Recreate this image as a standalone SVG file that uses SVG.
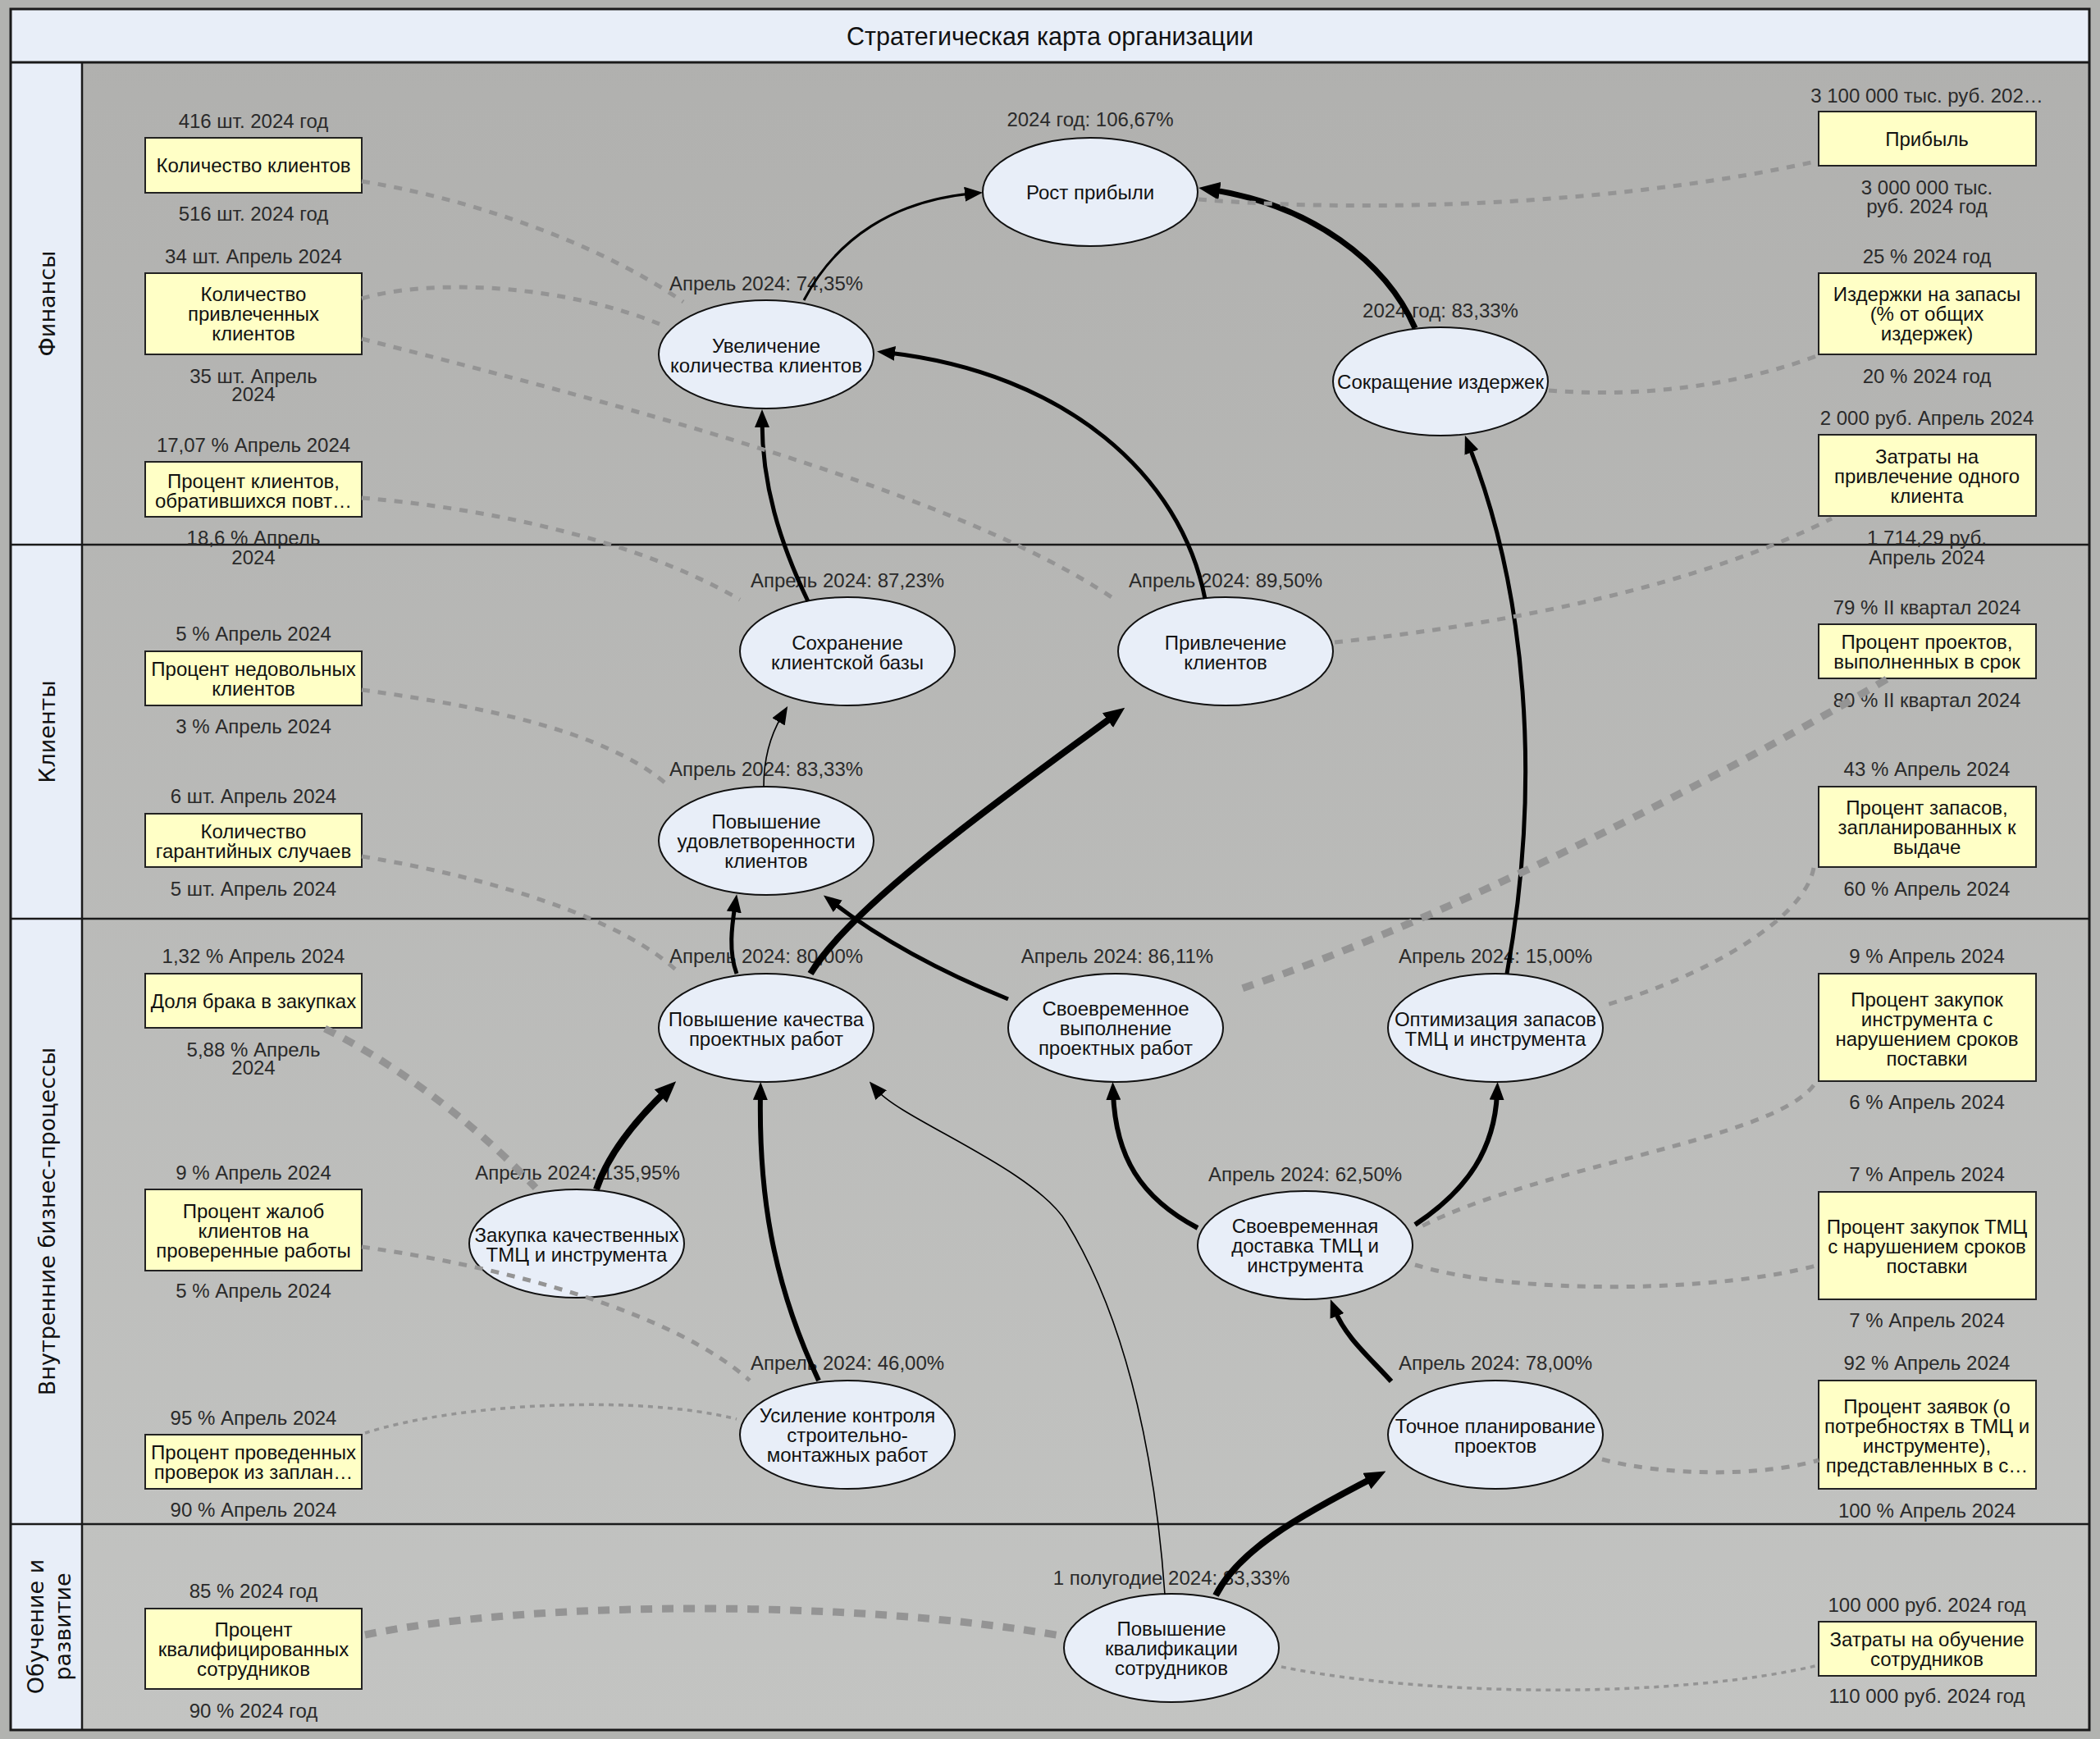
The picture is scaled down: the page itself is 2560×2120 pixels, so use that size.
<svg xmlns="http://www.w3.org/2000/svg" width="2560" height="2120" viewBox="0 0 2560 2120">
<defs>
<linearGradient id="bg" x1="0" y1="0" x2="0" y2="1">
<stop offset="0" stop-color="#b0b0ae"/>
<stop offset="1" stop-color="#c3c4c2"/>
</linearGradient>
<marker id="ah" viewBox="0 0 22 18" markerWidth="22" markerHeight="18" refX="8" refY="9" orient="auto" markerUnits="userSpaceOnUse"><path d="M0,0 L22,9 L0,18 z" fill="#000"/></marker>
<marker id="ahL" viewBox="0 0 26 22" markerWidth="26" markerHeight="22" refX="12" refY="11" orient="auto" markerUnits="userSpaceOnUse"><path d="M0,0 L26,11 L0,22 z" fill="#000"/></marker>
<style>
.t{font-family:"Liberation Sans",Arial,sans-serif;font-size:24px;fill:#111;text-anchor:middle;dominant-baseline:central}
.l{font-family:"Liberation Sans",Arial,sans-serif;font-size:24px;fill:#2a2a2a;text-anchor:middle;dominant-baseline:central}
.ln{font-family:"DejaVu Sans",sans-serif;font-size:27px;fill:#111;text-anchor:middle;dominant-baseline:central}
.g ellipse{fill:#e8eef8;stroke:#111;stroke-width:2}
.k rect{fill:#ffffc6;stroke:#222;stroke-width:2}
.a{fill:none;stroke:#000;stroke-linecap:butt}
.d{fill:none;stroke:#949494}
.d5{stroke-width:5;stroke-dasharray:10 10}
.d9{stroke-width:9;stroke-dasharray:14 12}
.d3{stroke-width:3.5;stroke-dasharray:6 6}
</style>
</defs>
<rect x="0" y="0" width="2560" height="2120" fill="#b2b3b0"/>
<g id="frame">
<rect x="13" y="11" width="2534" height="2098" fill="url(#bg)"/>
<rect x="13" y="11" width="2534" height="65" fill="#e8eef8"/>
<rect x="13" y="76" width="87" height="2033" fill="#e8eef8"/>
<g stroke="#1a1a1a" fill="none">
<rect x="13" y="11" width="2534" height="2098" stroke-width="3"/>
<line x1="13" y1="76" x2="2547" y2="76" stroke-width="3"/>
<line x1="100" y1="76" x2="100" y2="2109" stroke-width="2.5"/>
<line x1="13" y1="664" x2="2547" y2="664" stroke-width="2.5"/>
<line x1="13" y1="1120" x2="2547" y2="1120" stroke-width="2.5"/>
<line x1="13" y1="1858" x2="2547" y2="1858" stroke-width="2.5"/>
</g>
<text class="t" x="1280" y="44" style="font-size:30.5px">Стратегическая карта организации</text>
<text class="ln" transform="translate(57,370) rotate(-90)">Финансы</text>
<text class="ln" transform="translate(57,892) rotate(-90)">Клиенты</text>
<text class="ln" transform="translate(57,1489) rotate(-90)">Внутренние бизнес-процессы</text>
<text class="ln" transform="translate(43,1983) rotate(-90)">Обучение и</text>
<text class="ln" transform="translate(76,1983) rotate(-90)">развитие</text>
</g>

<g id="goal-rost-pribyli" class="g"><ellipse cx="1329" cy="234" rx="131" ry="66"/><text class="l" x="1329" y="145">2024 год: 106,67%</text><text class="t" x="1329" y="234">Рост прибыли</text></g>
<g id="goal-uvelichenie" class="g"><ellipse cx="934" cy="432" rx="131" ry="66"/><text class="l" x="934" y="345">Апрель 2024: 74,35%</text><text class="t" x="934" y="421">Увеличение</text><text class="t" x="934" y="445">количества клиентов</text></g>
<g id="goal-sokrashchenie" class="g"><ellipse cx="1756" cy="465" rx="131" ry="66"/><text class="l" x="1756" y="378">2024 год: 83,33%</text><text class="t" x="1756" y="465">Сокращение издержек</text></g>
<g id="goal-sokhranenie" class="g"><ellipse cx="1033" cy="794" rx="131" ry="66"/><text class="l" x="1033" y="707">Апрель 2024: 87,23%</text><text class="t" x="1033" y="783">Сохранение</text><text class="t" x="1033" y="807">клиентской базы</text></g>
<g id="goal-privlechenie" class="g"><ellipse cx="1494" cy="794" rx="131" ry="66"/><text class="l" x="1494" y="707">Апрель 2024: 89,50%</text><text class="t" x="1494" y="783">Привлечение</text><text class="t" x="1494" y="807">клиентов</text></g>
<g id="goal-udovletvorennost" class="g"><ellipse cx="934" cy="1025" rx="131" ry="66"/><text class="l" x="934" y="937">Апрель 2024: 83,33%</text><text class="t" x="934" y="1001">Повышение</text><text class="t" x="934" y="1025">удовлетворенности</text><text class="t" x="934" y="1049">клиентов</text></g>
<g id="goal-kachestvo" class="g"><ellipse cx="934" cy="1253" rx="131" ry="66"/><text class="l" x="934" y="1165">Апрель 2024: 80,00%</text><text class="t" x="934" y="1242">Повышение качества</text><text class="t" x="934" y="1266">проектных работ</text></g>
<g id="goal-vypolnenie" class="g"><ellipse cx="1360" cy="1253" rx="131" ry="66"/><text class="l" x="1362" y="1165">Апрель 2024: 86,11%</text><text class="t" x="1360" y="1229">Своевременное</text><text class="t" x="1360" y="1253">выполнение</text><text class="t" x="1360" y="1277">проектных работ</text></g>
<g id="goal-optimizaciya" class="g"><ellipse cx="1823" cy="1253" rx="131" ry="66"/><text class="l" x="1823" y="1165">Апрель 2024: 15,00%</text><text class="t" x="1823" y="1242">Оптимизация запасов</text><text class="t" x="1823" y="1266">ТМЦ и инструмента</text></g>
<g id="goal-zakupka" class="g"><ellipse cx="703" cy="1516" rx="131" ry="66"/><text class="l" x="704" y="1429">Апрель 2024: 135,95%</text><text class="t" x="703" y="1505">Закупка качественных</text><text class="t" x="703" y="1529">ТМЦ и инструмента</text></g>
<g id="goal-dostavka" class="g"><ellipse cx="1591" cy="1518" rx="131" ry="66"/><text class="l" x="1591" y="1431">Апрель 2024: 62,50%</text><text class="t" x="1591" y="1494">Своевременная</text><text class="t" x="1591" y="1518">доставка ТМЦ и</text><text class="t" x="1591" y="1542">инструмента</text></g>
<g id="goal-kontrol" class="g"><ellipse cx="1033" cy="1749" rx="131" ry="66"/><text class="l" x="1033" y="1661">Апрель 2024: 46,00%</text><text class="t" x="1033" y="1725">Усиление контроля</text><text class="t" x="1033" y="1749">строительно-</text><text class="t" x="1033" y="1773">монтажных работ</text></g>
<g id="goal-planirovanie" class="g"><ellipse cx="1823" cy="1749" rx="131" ry="66"/><text class="l" x="1823" y="1661">Апрель 2024: 78,00%</text><text class="t" x="1823" y="1738">Точное планирование</text><text class="t" x="1823" y="1762">проектов</text></g>
<g id="goal-kvalifikaciya" class="g"><ellipse cx="1428" cy="2009" rx="131" ry="66"/><text class="l" x="1428" y="1923">1 полугодие 2024: 83,33%</text><text class="t" x="1428" y="1985">Повышение</text><text class="t" x="1428" y="2009">квалификации</text><text class="t" x="1428" y="2033">сотрудников</text></g>

<g id="kpi-kol-klientov" class="k"><rect x="177" y="168" width="264" height="67"/><text class="l" x="309" y="147">416 шт. 2024 год</text><text class="t" x="309" y="201">Количество клиентов</text><text class="l" x="309" y="260">516 шт. 2024 год</text></g>
<g id="kpi-privlechennyh" class="k"><rect x="177" y="333" width="264" height="99"/><text class="l" x="309" y="312">34 шт. Апрель 2024</text><text class="t" x="309" y="358">Количество</text><text class="t" x="309" y="382">привлеченных</text><text class="t" x="309" y="406">клиентов</text><text class="l" x="309" y="458">35 шт. Апрель</text><text class="l" x="309" y="480">2024</text></g>
<g id="kpi-povtornyh" class="k"><rect x="177" y="563" width="264" height="67"/><text class="l" x="309" y="542">17,07 % Апрель 2024</text><text class="t" x="309" y="586">Процент клиентов,</text><text class="t" x="309" y="610">обратившихся повт…</text><text class="l" x="309" y="655">18,6 % Апрель</text><text class="l" x="309" y="679">2024</text></g>
<g id="kpi-nedovolnyh" class="k"><rect x="177" y="794" width="264" height="66"/><text class="l" x="309" y="772">5 % Апрель 2024</text><text class="t" x="309" y="815">Процент недовольных</text><text class="t" x="309" y="839">клиентов</text><text class="l" x="309" y="885">3 % Апрель 2024</text></g>
<g id="kpi-garantiynyh" class="k"><rect x="177" y="992" width="264" height="65"/><text class="l" x="309" y="970">6 шт. Апрель 2024</text><text class="t" x="309" y="1013">Количество</text><text class="t" x="309" y="1037">гарантийных случаев</text><text class="l" x="309" y="1083">5 шт. Апрель 2024</text></g>
<g id="kpi-brak" class="k"><rect x="177" y="1187" width="264" height="66"/><text class="l" x="309" y="1165">1,32 % Апрель 2024</text><text class="t" x="309" y="1220">Доля брака в закупках</text><text class="l" x="309" y="1279">5,88 % Апрель</text><text class="l" x="309" y="1301">2024</text></g>
<g id="kpi-zhalob" class="k"><rect x="177" y="1450" width="264" height="99"/><text class="l" x="309" y="1429">9 % Апрель 2024</text><text class="t" x="309" y="1476">Процент жалоб</text><text class="t" x="309" y="1500">клиентов на</text><text class="t" x="309" y="1524">проверенные работы</text><text class="l" x="309" y="1573">5 % Апрель 2024</text></g>
<g id="kpi-proverok" class="k"><rect x="177" y="1749" width="264" height="66"/><text class="l" x="309" y="1728">95 % Апрель 2024</text><text class="t" x="309" y="1770">Процент проведенных</text><text class="t" x="309" y="1794">проверок из заплан…</text><text class="l" x="309" y="1840">90 % Апрель 2024</text></g>
<g id="kpi-kvalificirovannyh" class="k"><rect x="177" y="1961" width="264" height="98"/><text class="l" x="309" y="1939">85 % 2024 год</text><text class="t" x="309" y="1986">Процент</text><text class="t" x="309" y="2010">квалифицированных</text><text class="t" x="309" y="2034">сотрудников</text><text class="l" x="309" y="2085">90 % 2024 год</text></g>

<g id="kpi-pribyl" class="k"><rect x="2217" y="136" width="265" height="66"/><text class="l" x="2349" y="116">3 100 000 тыс. руб. 202…</text><text class="t" x="2349" y="169">Прибыль</text><text class="l" x="2349" y="228">3 000 000 тыс.</text><text class="l" x="2349" y="251">руб. 2024 год</text></g>
<g id="kpi-izderzhki" class="k"><rect x="2217" y="333" width="265" height="99"/><text class="l" x="2349" y="312">25 % 2024 год</text><text class="t" x="2349" y="358">Издержки на запасы</text><text class="t" x="2349" y="382">(% от общих</text><text class="t" x="2349" y="406">издержек)</text><text class="l" x="2349" y="458">20 % 2024 год</text></g>
<g id="kpi-zatraty-privlechenie" class="k"><rect x="2217" y="530" width="265" height="99"/><text class="l" x="2349" y="509">2 000 руб. Апрель 2024</text><text class="t" x="2349" y="556">Затраты на</text><text class="t" x="2349" y="580">привлечение одного</text><text class="t" x="2349" y="604">клиента</text><text class="l" x="2349" y="655">1 714,29 руб.</text><text class="l" x="2349" y="679">Апрель 2024</text></g>
<g id="kpi-v-srok" class="k"><rect x="2217" y="761" width="265" height="66"/><text class="l" x="2349" y="740">79 % II квартал 2024</text><text class="t" x="2349" y="782">Процент проектов,</text><text class="t" x="2349" y="806">выполненных в срок</text><text class="l" x="2349" y="853">80 % II квартал 2024</text></g>
<g id="kpi-zapasov" class="k"><rect x="2217" y="959" width="265" height="98"/><text class="l" x="2349" y="937">43 % Апрель 2024</text><text class="t" x="2349" y="984">Процент запасов,</text><text class="t" x="2349" y="1008">запланированных к</text><text class="t" x="2349" y="1032">выдаче</text><text class="l" x="2349" y="1083">60 % Апрель 2024</text></g>
<g id="kpi-zakupok-instr" class="k"><rect x="2217" y="1187" width="265" height="131"/><text class="l" x="2349" y="1165">9 % Апрель 2024</text><text class="t" x="2349" y="1218">Процент закупок</text><text class="t" x="2349" y="1242">инструмента с</text><text class="t" x="2349" y="1266">нарушением сроков</text><text class="t" x="2349" y="1290">поставки</text><text class="l" x="2349" y="1343">6 % Апрель 2024</text></g>
<g id="kpi-zakupok-tmc" class="k"><rect x="2217" y="1453" width="265" height="131"/><text class="l" x="2349" y="1431">7 % Апрель 2024</text><text class="t" x="2349" y="1495">Процент закупок ТМЦ</text><text class="t" x="2349" y="1519">с нарушением сроков</text><text class="t" x="2349" y="1543">поставки</text><text class="l" x="2349" y="1609">7 % Апрель 2024</text></g>
<g id="kpi-zayavok" class="k"><rect x="2217" y="1683" width="265" height="132"/><text class="l" x="2349" y="1661">92 % Апрель 2024</text><text class="t" x="2349" y="1714">Процент заявок (о</text><text class="t" x="2349" y="1738">потребностях в ТМЦ и</text><text class="t" x="2349" y="1762">инструменте),</text><text class="t" x="2349" y="1786">представленных в с…</text><text class="l" x="2349" y="1841">100 % Апрель 2024</text></g>
<g id="kpi-obuchenie" class="k"><rect x="2217" y="1977" width="265" height="66"/><text class="l" x="2349" y="1956">100 000 руб. 2024 год</text><text class="t" x="2349" y="1998">Затраты на обучение</text><text class="t" x="2349" y="2022">сотрудников</text><text class="l" x="2349" y="2067">110 000 руб. 2024 год</text></g>

<g id="connectors">
<g id="causal">
<path class="a" stroke-width="3" marker-end="url(#ah)" d="M980,366 C1020,290 1090,245 1184,236"/>
<path class="a" stroke-width="7" marker-end="url(#ahL)" d="M1725,400 C1690,320 1600,250 1475,231"/>
<path class="a" stroke-width="5" marker-end="url(#ah)" d="M1469,730 C1440,580 1300,455 1083,430"/>
<path class="a" stroke-width="5" marker-end="url(#ah)" d="M985,733 C950,660 929,590 929,513"/>
<path class="a" stroke-width="1.6" marker-end="url(#ah)" d="M931,959 C931,925 940,895 953,873"/>
<path class="a" stroke-width="5" marker-end="url(#ah)" d="M898,1187 C888,1160 892,1130 896,1104"/>
<path class="a" stroke-width="8" marker-end="url(#ahL)" d="M988,1187 C1040,1100 1240,960 1360,871"/>
<path class="a" stroke-width="5" marker-end="url(#ah)" d="M1229,1218 C1160,1190 1080,1150 1015,1100"/>
<path class="a" stroke-width="5" marker-end="url(#ah)" d="M1837,1187 C1880,950 1860,720 1791,544"/>
<path class="a" stroke-width="8" marker-end="url(#ahL)" d="M727,1450 C740,1410 770,1370 814,1328"/>
<path class="a" stroke-width="6" marker-end="url(#ah)" d="M998,1683 C940,1560 925,1450 927,1333"/>
<path class="a" stroke-width="1.6" marker-end="url(#ah)" d="M1420,1944 C1410,1800 1380,1620 1300,1490 C1260,1425 1100,1365 1069,1329"/>
<path class="a" stroke-width="6" marker-end="url(#ah)" d="M1460,1497 C1390,1460 1360,1410 1357,1333"/>
<path class="a" stroke-width="6" marker-end="url(#ah)" d="M1725,1493 C1790,1450 1822,1400 1825,1333"/>
<path class="a" stroke-width="6" marker-end="url(#ah)" d="M1696,1684 C1670,1655 1640,1630 1627,1597"/>
<path class="a" stroke-width="8" marker-end="url(#ahL)" d="M1482,1945 C1510,1890 1580,1850 1677,1800"/>
</g>
<g id="kpi-links">
<path class="d d5" d="M441,221 C560,240 720,290 833,368"/>
<path class="d d5" d="M441,364 C520,340 680,345 804,395"/>
<path class="d d5" d="M441,413 C700,480 1150,590 1358,730"/>
<path class="d d5" d="M441,607 C600,620 780,660 902,731"/>
<path class="d d5" d="M1461,243 C1700,262 2000,245 2217,196"/>
<path class="d d5" d="M1888,476 C2000,485 2120,470 2217,433"/>
<path class="d d5" d="M1627,783 C1850,760 2080,710 2233,632"/>
<path class="d d5" d="M441,841 C580,860 740,890 816,959"/>
<path class="d d5" d="M441,1044 C600,1070 760,1120 829,1187"/>
<path class="d d9" d="M2300,828 C2180,900 1800,1110 1505,1208"/>
<path class="d d5" d="M2211,1058 C2200,1120 2080,1190 1958,1225"/>
<path class="d d5" d="M2211,1323 C2160,1390 1880,1420 1733,1495"/>
<path class="d d5" d="M1725,1542 C1850,1580 2100,1575 2217,1542"/>
<path class="d d5" d="M1953,1779 C2030,1800 2150,1800 2217,1780"/>
<path class="d d9" d="M396,1254 C470,1290 570,1360 653,1448"/>
<path class="d d5" d="M441,1520 C620,1545 820,1600 914,1683"/>
<path class="d d3" d="M445,1747 C560,1710 780,1700 898,1730"/>
<path class="d d9" d="M445,1993 C650,1950 1050,1950 1298,1995"/>
<path class="d d3" d="M1562,2032 C1750,2070 2050,2070 2217,2030"/>
</g>
</g>
</svg>
